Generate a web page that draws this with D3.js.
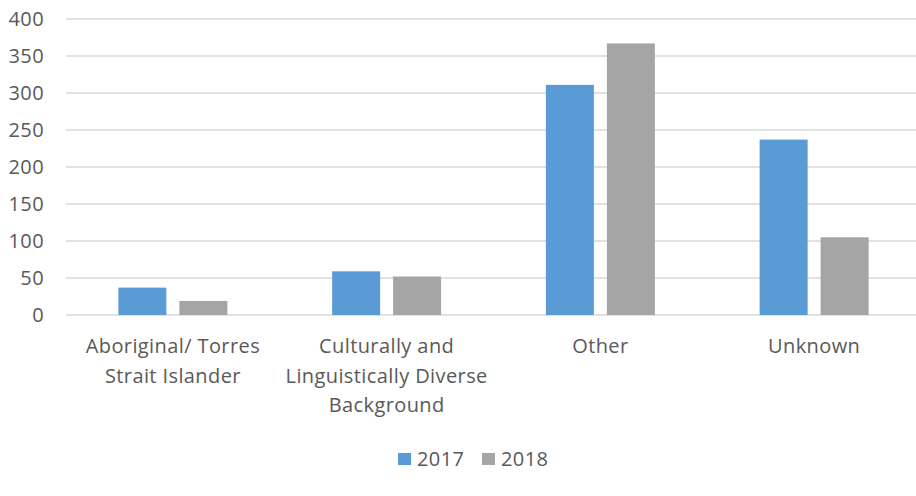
<!DOCTYPE html>
<html>
<head>
<meta charset="utf-8">
<script src="https://cdn.jsdelivr.net/npm/d3@7"></script>
<style>
  html, body { margin: 0; padding: 0; background: #fff; }
  svg text { font-family: "Open Sans", "Liberation Sans", sans-serif; fill: #595959; letter-spacing: 0.4px; }
</style>
</head>
<body>
<svg id="chart" width="916" height="496"></svg>
<script>
// Categories (each entry is a list of wrapped label lines)
const categories = ["Aboriginal/ Torres Strait Islander", "Culturally and Linguistically Diverse Background", "Other", "Unknown"];
const categoryLines = [
  ["Aboriginal/ Torres", "Strait Islander"],
  ["Culturally and", "Linguistically Diverse", "Background"],
  ["Other"],
  ["Unknown"]
];
const seriesNames = ["2017", "2018"];
const values2017 = [37, 59, 311, 237];
const values2018 = [19, 52, 367, 105];
const yTicks = [0, 50, 100, 150, 200, 250, 300, 350, 400];
const colors = ["#5b9bd5", "#a5a5a5"];

const svg = d3.select("#chart");
const fontSize = 20;

const plotLeft = 66, plotRight = 921, plotTop = 19, plotBottom = 315;

const y = d3.scaleLinear().domain([0, 400]).range([plotBottom, plotTop]);
const x0 = d3.scaleBand().domain(categories).range([plotLeft, plotRight]).padding(0);
const groupWidth = 109;
const x1 = d3.scaleBand().domain(seriesNames).range([0, groupWidth])
  .paddingInner(13 / 61).paddingOuter(0);
const color = d3.scaleOrdinal().domain(seriesNames).range(colors);

// Gridlines
svg.append("g")
  .selectAll("line")
  .data(yTicks)
  .join("line")
  .attr("x1", plotLeft)
  .attr("x2", plotRight)
  .attr("y1", d => y(d))
  .attr("y2", d => y(d))
  .attr("stroke", "#d9d9d9")
  .attr("stroke-width", 1.5);

// Y axis labels
const yAxis = d3.axisLeft(y).tickValues(yTicks).tickSize(0).tickPadding(0);
const yg = svg.append("g").attr("transform", "translate(44,0)").call(yAxis);
yg.select(".domain").remove();
yg.selectAll("text")
  .attr("font-size", fontSize)
  .style("font-family", '"Open Sans", "Liberation Sans", sans-serif')
  .attr("fill", "#595959");

// Bars
const rows = categories.map((c, i) => ({
  category: c,
  values: [
    { series: "2017", value: values2017[i] },
    { series: "2018", value: values2018[i] }
  ]
}));

const groups = svg.append("g")
  .selectAll("g")
  .data(rows)
  .join("g")
  .attr("transform", d => `translate(${x0(d.category) + (x0.bandwidth() - groupWidth) / 2},0)`);

groups.selectAll("rect")
  .data(d => d.values)
  .join("rect")
  .attr("x", d => x1(d.series))
  .attr("width", x1.bandwidth())
  .attr("y", d => y(d.value))
  .attr("height", d => y(0) - y(d.value))
  .attr("fill", d => color(d.series));

// Category labels
const labels = svg.append("g")
  .selectAll("text")
  .data(categories)
  .join("text")
  .attr("text-anchor", "middle")
  .attr("font-size", fontSize)
  .attr("transform", d => `translate(${x0(d) + x0.bandwidth() / 2},353)`);

labels.selectAll("tspan")
  .data((d, i) => categoryLines[i])
  .join("tspan")
  .attr("x", 0)
  .attr("y", (d, i) => i * 29.5)
  .text(d => d);

// Legend
const legend = svg.append("g").attr("transform", "translate(398,453)");
const legendItems = legend.selectAll("g")
  .data(seriesNames)
  .join("g")
  .attr("transform", (d, i) => `translate(${i * 84},0)`);
legendItems.append("rect")
  .attr("width", 13)
  .attr("height", 12)
  .attr("fill", d => color(d));
legendItems.append("text")
  .attr("x", 19)
  .attr("y", 13)
  .attr("font-size", fontSize)
  .text(d => d);
</script>
</body>
</html>
